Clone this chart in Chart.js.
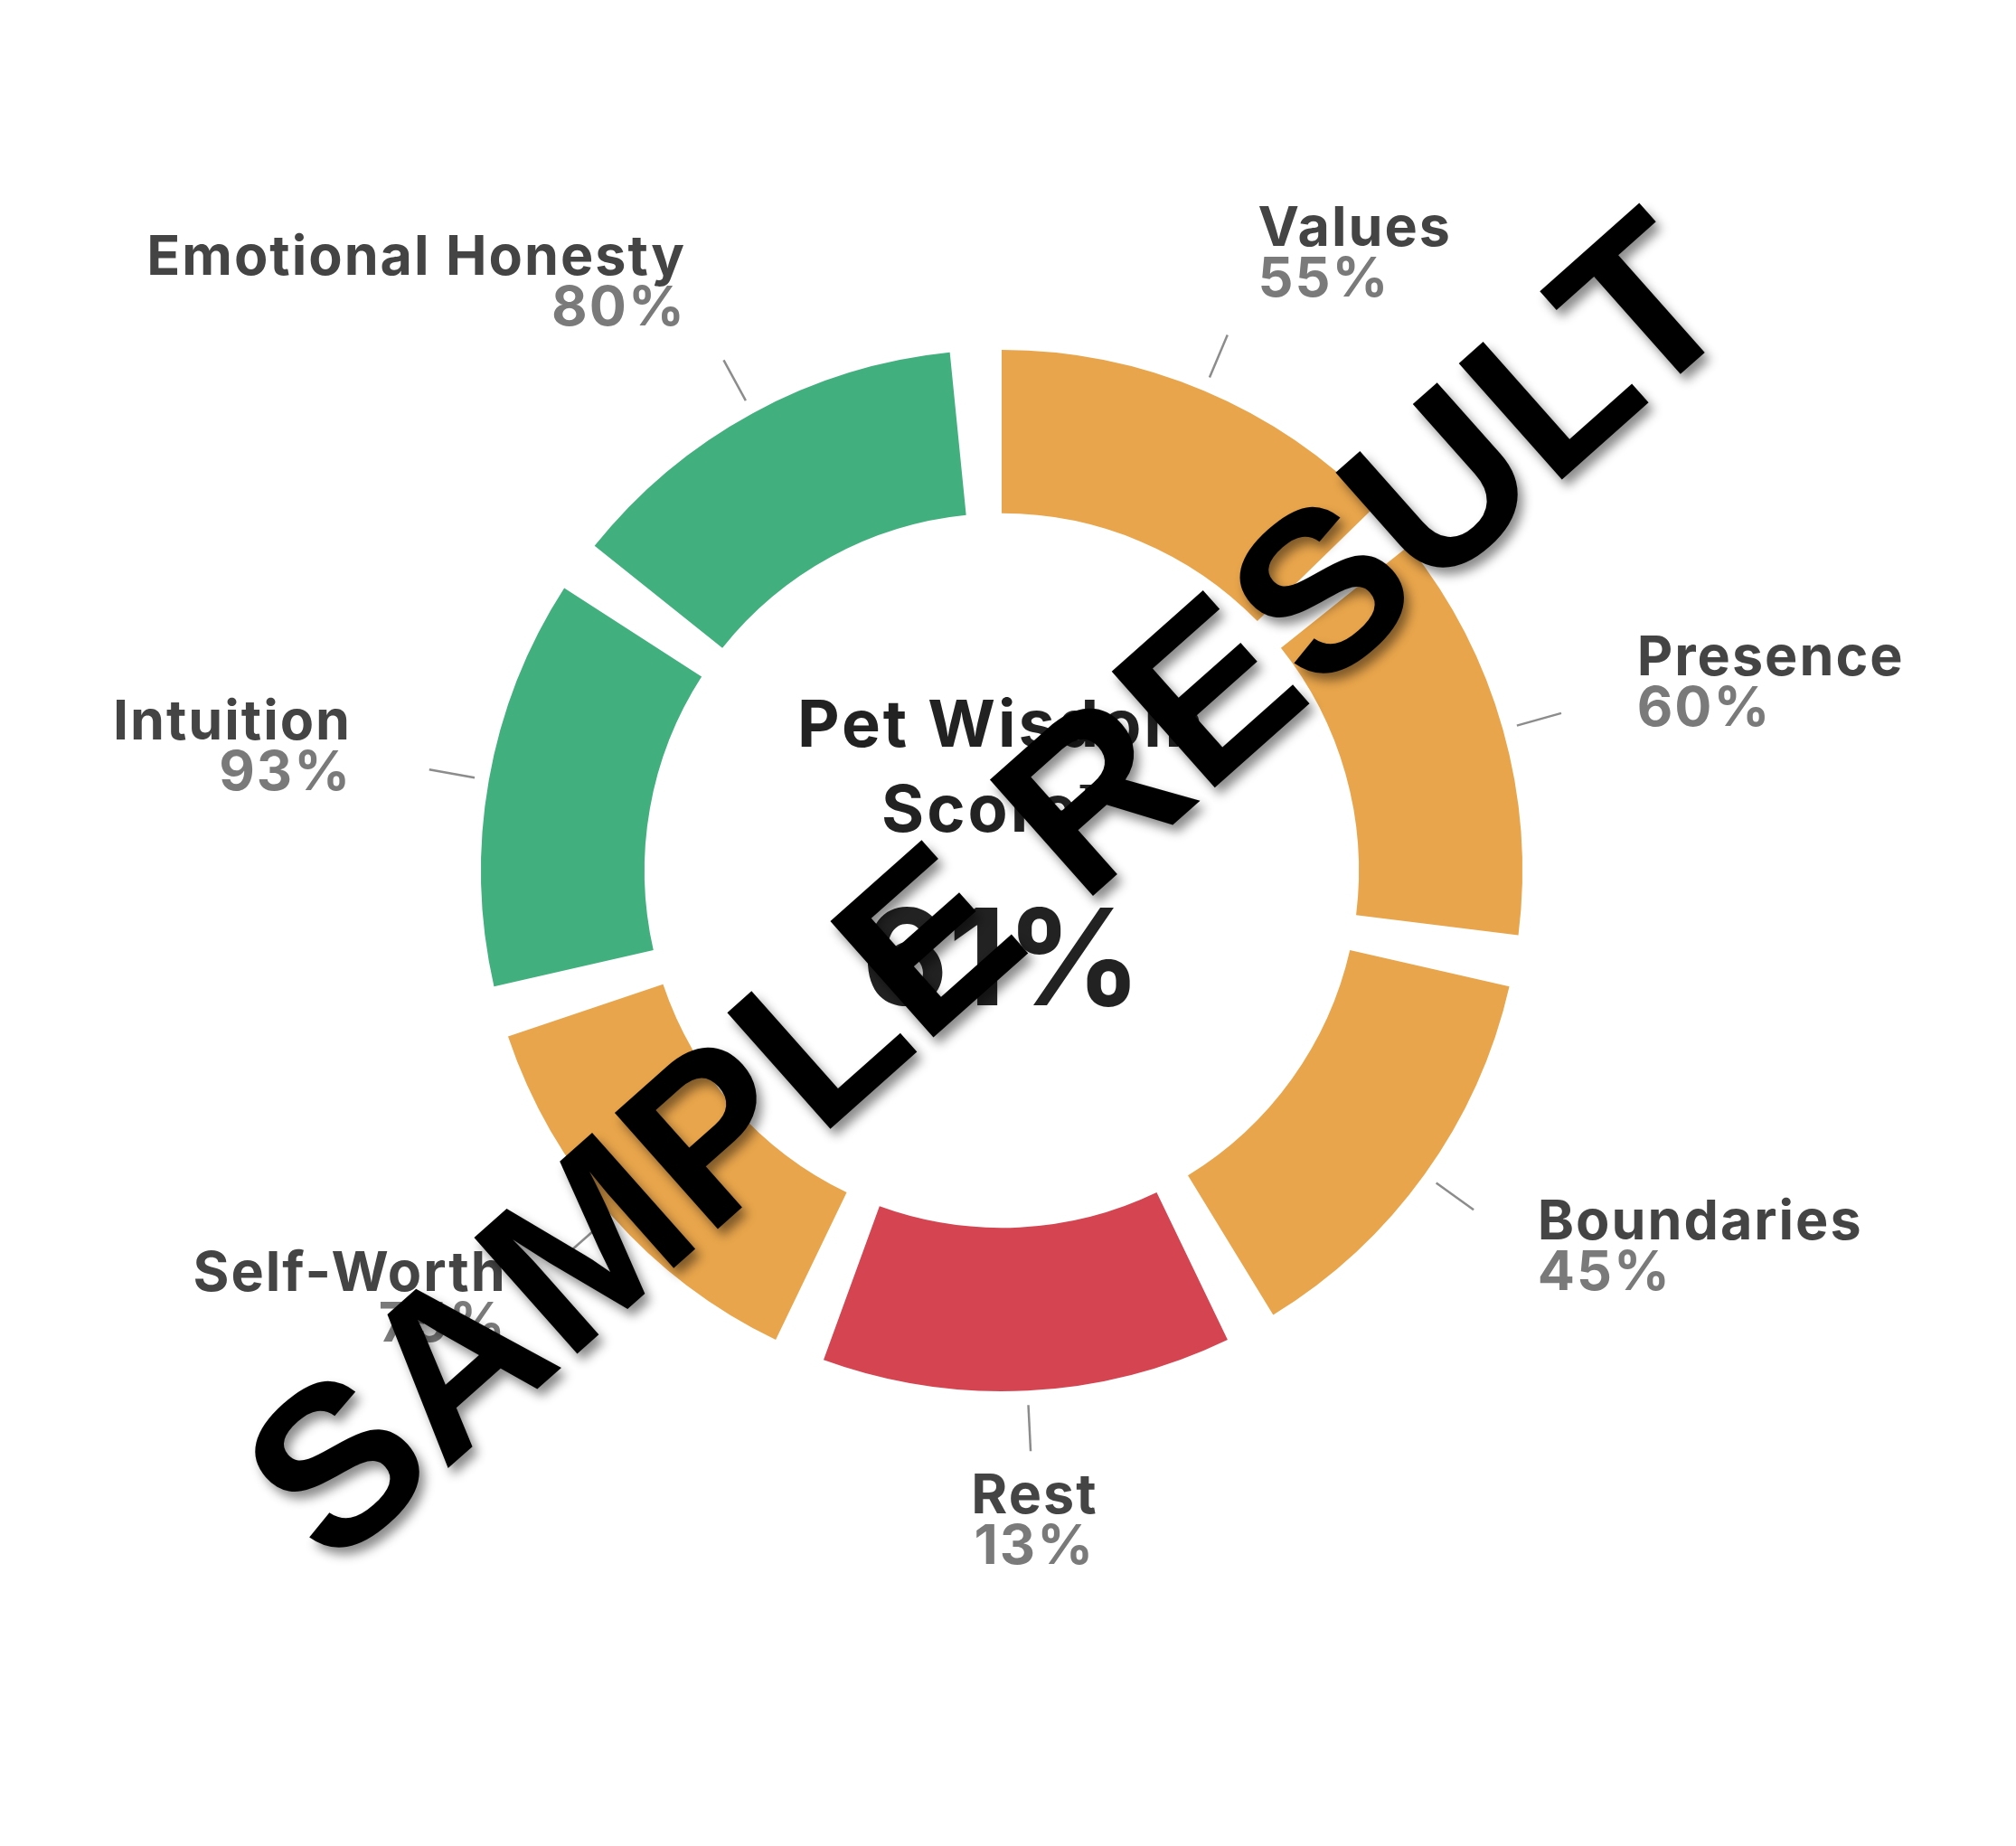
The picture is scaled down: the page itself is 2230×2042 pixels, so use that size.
<!DOCTYPE html>
<html>
<head>
<meta charset="utf-8">
<script src="https://cdn.jsdelivr.net/npm/chart.js@4.4.1/dist/chart.umd.min.js"></script>
<style>
  html, body { margin: 0; padding: 0; background: #fff; }
  #wrap { width: 2230px; height: 2042px; position: relative; }
</style>
</head>
<body>
<div id="wrap"><canvas id="wisdomChart"></canvas></div>
<script>
// categories go clockwise from 12 o'clock
const categories = ["Values", "Presence", "Boundaries", "Rest", "Self-Worth", "Intuition", "Emotional Honesty"];
const scores = [55, 60, 45, 13, 75, 93, 80];
const overallScore = 61;
const titleLines = ["Pet Wisdom", "Score™"];

const GREEN = "#41af7e";
const ORANGE = "#e8a54b";
const RED = "#d54451";

function scoreColor(v) {
  if (v >= 80) return GREEN;
  if (v < 30) return RED;
  return ORANGE;
}

// every category gets the same slice, followed by a small empty wedge
const SLICE = 8;
const GAP = 1;
const sliceData = [];
const sliceColors = [];
const sliceLabels = [];
categories.forEach((name, i) => {
  sliceData.push(SLICE, GAP);
  sliceColors.push(scoreColor(scores[i]), "rgba(0,0,0,0)");
  sliceLabels.push(name, "");
});

const labelPlugin = {
  id: "segmentLabels",
  afterDatasetsDraw(chart) {
    const ctx = chart.ctx;
    const arcs = chart.getDatasetMeta(0).data;
    ctx.save();
    categories.forEach((name, i) => {
      const p = arcs[i * 2].getProps(["x", "y", "startAngle", "endAngle", "outerRadius"], true);
      const a = (p.startAngle + p.endAngle) / 2;
      const cos = Math.cos(a);
      const sin = Math.sin(a);

      ctx.strokeStyle = "#8c8c8c";
      ctx.lineWidth = 2.5;
      ctx.beginPath();
      ctx.moveTo(p.x + cos * (p.outerRadius + 16), p.y + sin * (p.outerRadius + 16));
      ctx.lineTo(p.x + cos * (p.outerRadius + 67), p.y + sin * (p.outerRadius + 67));
      ctx.stroke();

      const lx = p.x + cos * (p.outerRadius + 154);
      const ly = p.y + sin * (p.outerRadius + 154) - 18;
      ctx.textAlign = cos > 0.2 ? "left" : (cos < -0.2 ? "right" : "center");
      ctx.textBaseline = "alphabetic";
      ctx.letterSpacing = "2px";
      ctx.font = "700 61px Inter";
      ctx.fillStyle = "#444444";
      ctx.fillText(name, lx, ly);
      ctx.fillStyle = "#7a7a7a";
      ctx.fillText(scores[i] + "%", lx, ly + 56);
    });

    // centre title and overall score
    const c = arcs[0].getProps(["x", "y"], true);
    ctx.textAlign = "center";
    ctx.fillStyle = "#222222";
    ctx.letterSpacing = "3px";
    ctx.font = "700 72px Inter";
    ctx.fillText(titleLines[0], c.x, c.y - 137);
    ctx.fillText(titleLines[1], c.x, c.y - 43);
    ctx.letterSpacing = "0px";
    ctx.font = "700 148px Inter";
    ctx.fillText(overallScore + "%", c.x, c.y + 149);
    ctx.restore();
  },
  afterDraw(chart) {
    const ctx = chart.ctx;
    const c = chart.getDatasetMeta(0).data[0].getProps(["x", "y"], true);
    const text = "SAMPLE RESULT";
    ctx.save();
    ctx.translate(c.x + 40, c.y + 82);
    ctx.rotate(-41.6 * Math.PI / 180);
    ctx.font = "700 100px 'Liberation Sans'";
    const size = 100 * 2090 / ctx.measureText(text).width;
    ctx.font = "700 " + size + "px 'Liberation Sans'";
    ctx.textAlign = "center";
    ctx.textBaseline = "alphabetic";
    ctx.shadowColor = "rgba(0,0,0,0.45)";
    ctx.shadowBlur = 12;
    ctx.shadowOffsetX = 6;
    ctx.shadowOffsetY = 8;
    ctx.fillStyle = "#000000";
    ctx.fillText(text, 0, 0);
    ctx.restore();
  }
};

const ctx = document.getElementById("wisdomChart").getContext("2d");

new Chart(ctx, {
  type: "doughnut",
  data: {
    labels: sliceLabels,
    datasets: [{
      data: sliceData,
      backgroundColor: sliceColors,
      borderWidth: 0,
      hoverOffset: 0
    }]
  },
  options: {
    responsive: true,
    maintainAspectRatio: false,
    animation: false,
    radius: 576,
    cutout: "68.6%",
    layout: { padding: { left: 100, right: 114, top: 100, bottom: 216 } },
    events: [],
    plugins: {
      legend: { display: false },
      tooltip: { enabled: false }
    }
  },
  plugins: [labelPlugin]
});
</script>
</body>
</html>
